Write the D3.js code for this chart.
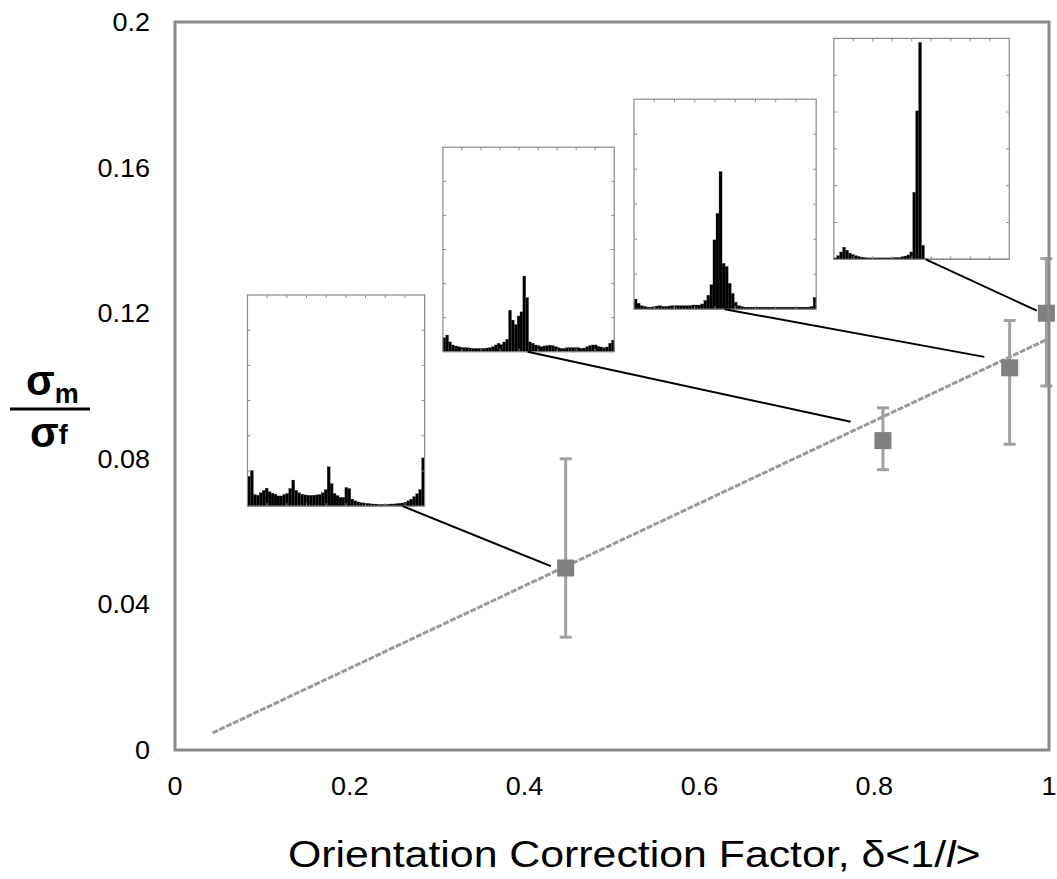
<!DOCTYPE html>
<html>
<head>
<meta charset="utf-8">
<script src="https://cdn.jsdelivr.net/npm/d3@7"></script>
<style>
  html, body { margin: 0; padding: 0; background: #fff; }
  svg { display: block; }
  text { font-family: "Liberation Sans", Arial, sans-serif; }
</style>
</head>
<body>
<svg id="chart" width="1057" height="879"></svg>
<script>
// ---------- data ----------
const xTicks = [0, 0.2, 0.4, 0.6, 0.8, 1];
const xTickLabels = ["0", "0.2", "0.4", "0.6", "0.8", "1"];
const yTicks = [0, 0.04, 0.08, 0.12, 0.16, 0.2];
const yTickLabels = ["0", "0.04", "0.08", "0.12", "0.16", "0.2"];

// measured points (orientation correction factor vs stress ratio)
const pointX = [0.447, 0.810, 0.955, 0.997];
const pointY = [0.050, 0.085, 0.105, 0.120];
const errLow = [0.031, 0.077, 0.084, 0.100];
const errHigh = [0.080, 0.094, 0.118, 0.135];

// linear trend line end points
const trendX = [0.043, 0.996];
const trendY = [0.0047, 0.1126];

// inset histograms (fibre orientation 0–180°, 60 bins of 3°), heights in inset tick units (0–6)
const hist1 = [0.85,1.01,0.33,0.31,0.38,0.45,0.51,0.41,0.37,0.34,0.29,0.29,0.33,0.36,0.5,0.74,0.45,0.38,0.34,0.32,0.31,0.31,0.31,0.32,0.33,0.38,0.47,1.12,0.64,0.36,0.3,0.25,0.25,0.53,0.5,0.2,0.15,0.12,0.1,0.09,0.08,0.07,0.06,0.06,0.05,0.05,0.05,0.05,0.06,0.06,0.07,0.08,0.09,0.11,0.15,0.2,0.27,0.35,0.47,1.37];
const hist2 = [0.41,0.49,0.29,0.2,0.17,0.15,0.13,0.12,0.12,0.11,0.1,0.1,0.1,0.1,0.1,0.11,0.12,0.15,0.2,0.25,0.21,0.29,0.37,1.22,0.93,0.8,1.05,1.17,2.22,1.59,0.29,0.25,0.2,0.18,0.15,0.17,0.18,0.19,0.18,0.15,0.12,0.1,0.1,0.12,0.12,0.12,0.12,0.12,0.1,0.11,0.15,0.18,0.2,0.2,0.16,0.14,0.12,0.14,0.25,0.34];
const hist3 = [0.29,0.17,0.1,0.08,0.06,0.06,0.07,0.09,0.1,0.08,0.08,0.09,0.1,0.1,0.1,0.1,0.1,0.1,0.1,0.12,0.12,0.12,0.15,0.25,0.4,0.7,1.98,2.74,3.93,1.31,1.22,0.74,0.45,0.2,0.1,0.08,0.06,0.06,0.06,0.06,0.06,0.06,0.06,0.06,0.06,0.06,0.06,0.06,0.06,0.06,0.06,0.06,0.06,0.06,0.06,0.06,0.06,0.06,0.08,0.34];
const hist4 = [0.04,0.1,0.2,0.33,0.25,0.17,0.13,0.1,0.08,0.06,0.05,0.04,0.04,0.04,0.04,0.04,0.04,0.04,0.04,0.04,0.05,0.05,0.05,0.07,0.09,0.12,0.2,1.82,4.03,5.89,0.38,0.02,0.01,0.01,0.01,0.01,0.01,0.01,0.01,0.01,0.01,0.01,0.01,0.01,0.01,0.01,0.01,0.01,0.01,0.01,0.01,0.01,0.01,0.01,0.01,0.01,0.01,0.01,0.01,0.01];
const histograms = [hist1, hist2, hist3, hist4];

// inset boxes in main-axis units
const insetX0 = [0.0829, 0.3065, 0.5252, 0.7538];
const insetX1 = [0.2856, 0.5026, 0.7336, 0.9545];
const insetY0 = [0.0670, 0.1094, 0.1211, 0.1348];
const insetY1 = [0.1250, 0.1656, 0.1788, 0.1955];
// connector: start angle on inset bottom (degrees), end point in main units
const linkAngle = [157.6, 89, 89.5, 94.3];
const linkEndX = [0.430, 0.773, 0.926, 0.986];
const linkEndY = [0.0505, 0.0902, 0.108, 0.1207];

// ---------- drawing ----------
const svg = d3.select("#chart");
const x = d3.scaleLinear().domain([0, 1]).range([175, 1049]);
const y = d3.scaleLinear().domain([0, 0.2]).range([750, 22]);

// trend line (dashed)
svg.append("line")
  .attr("x1", x(trendX[0])).attr("y1", y(trendY[0]))
  .attr("x2", x(trendX[1])).attr("y2", y(trendY[1]))
  .attr("stroke", "#9a9a9a").attr("stroke-width", 3)
  .attr("stroke-dasharray", "6,1.5");

// error bars
const eb = svg.append("g").attr("stroke", "#a0a0a0").attr("stroke-width", 3);
pointX.forEach((px, i) => {
  eb.append("line").attr("x1", x(px)).attr("x2", x(px))
    .attr("y1", y(errLow[i])).attr("y2", y(errHigh[i]));
  [errLow[i], errHigh[i]].forEach(v => {
    eb.append("line").attr("x1", x(px) - 6).attr("x2", x(px) + 6)
      .attr("y1", y(v)).attr("y2", y(v));
  });
});

// markers
svg.append("g").selectAll("rect").data(pointX).join("rect")
  .attr("x", (d) => x(d) - 8.5)
  .attr("y", (d, i) => y(pointY[i]) - 8.5)
  .attr("width", 17).attr("height", 17)
  .attr("fill", "#808080");

// frame
svg.append("rect")
  .attr("x", x(0)).attr("y", y(0.2))
  .attr("width", x(1) - x(0)).attr("height", y(0) - y(0.2))
  .attr("fill", "none").attr("stroke", "#8a8a8a").attr("stroke-width", 3);

// insets
histograms.forEach((hist, k) => {
  const X0 = x(insetX0[k]), X1 = x(insetX1[k]);
  const YB = y(insetY0[k]), YT = y(insetY1[k]);
  const hx = d3.scaleLinear().domain([0, 180]).range([X0, X1]);
  const hy = d3.scaleLinear().domain([0, 6]).range([YB, YT]);
  const g = svg.append("g");
  g.append("rect").attr("x", X0).attr("y", YT).attr("width", X1 - X0).attr("height", YB - YT)
    .attr("fill", "#fff").attr("stroke", "none");
  const bw = 3;
  g.selectAll("rect.bar").data(hist).join("rect").attr("class", "bar")
    .attr("x", (d, i) => hx(i * bw))
    .attr("width", hx(bw) - hx(0))
    .attr("y", d => hy(d))
    .attr("height", d => hy(0) - hy(d))
    .attr("fill", "#000").attr("stroke", "#3a3a3a").attr("stroke-width", 0.3);
  const tg = g.append("g").attr("stroke", "#8a8a8a").attr("stroke-width", 1);
  d3.range(20, 180, 20).forEach(a => {
    tg.append("line").attr("x1", hx(a)).attr("x2", hx(a)).attr("y1", YT).attr("y2", YT + 3);
    tg.append("line").attr("x1", hx(a)).attr("x2", hx(a)).attr("y1", YB).attr("y2", YB - 3);
  });
  d3.range(1, 6).forEach(v => {
    tg.append("line").attr("x1", X0).attr("x2", X0 + 3).attr("y1", hy(v)).attr("y2", hy(v));
    tg.append("line").attr("x1", X1).attr("x2", X1 - 3).attr("y1", hy(v)).attr("y2", hy(v));
  });
  g.append("rect").attr("x", X0).attr("y", YT).attr("width", X1 - X0).attr("height", YB - YT)
    .attr("fill", "none").attr("stroke", "#8a8a8a").attr("stroke-width", 1.2);
  svg.append("line")
    .attr("x1", hx(linkAngle[k])).attr("y1", YB)
    .attr("x2", x(linkEndX[k])).attr("y2", y(linkEndY[k]))
    .attr("stroke", "#000").attr("stroke-width", 2);
});

// tick labels (slightly wide glyphs as in the original)
svg.append("g").selectAll("text").data(xTicks).join("text")
  .attr("transform", d => `translate(${x(d)},795) scale(1.08,1)`)
  .attr("text-anchor", "middle").attr("font-size", 25).attr("fill", "#000")
  .text((d, i) => xTickLabels[i]);
svg.append("g").selectAll("text").data(yTicks).join("text")
  .attr("transform", d => `translate(150,${y(d) + 9}) scale(1.08,1)`)
  .attr("text-anchor", "end").attr("font-size", 25).attr("fill", "#000")
  .text((d, i) => yTickLabels[i]);

// x title
const xt = svg.append("text").attr("transform", "translate(288,867) scale(1.19,1)")
  .attr("font-size", 36).attr("fill", "#000");
xt.append("tspan").text("Orientation Correction Factor, δ<1/");
xt.append("tspan").attr("font-style", "italic").text("l");
xt.append("tspan").text(">");

// y title (fraction)
const yl = svg.append("g").attr("font-weight", "bold").attr("fill", "#000");
const num = yl.append("text").attr("x", 26).attr("y", 395).attr("font-size", 42);
num.append("tspan").text("σ");
num.append("tspan").attr("font-size", 27).attr("dy", 8).text("m");
yl.append("line").attr("x1", 10).attr("x2", 90).attr("y1", 409).attr("y2", 409)
  .attr("stroke", "#000").attr("stroke-width", 3);
const den = yl.append("text").attr("x", 30).attr("y", 447).attr("font-size", 42);
den.append("tspan").text("σ");
den.append("tspan").attr("font-size", 27).attr("dy", -3).text("f");
</script>
</body>
</html>
